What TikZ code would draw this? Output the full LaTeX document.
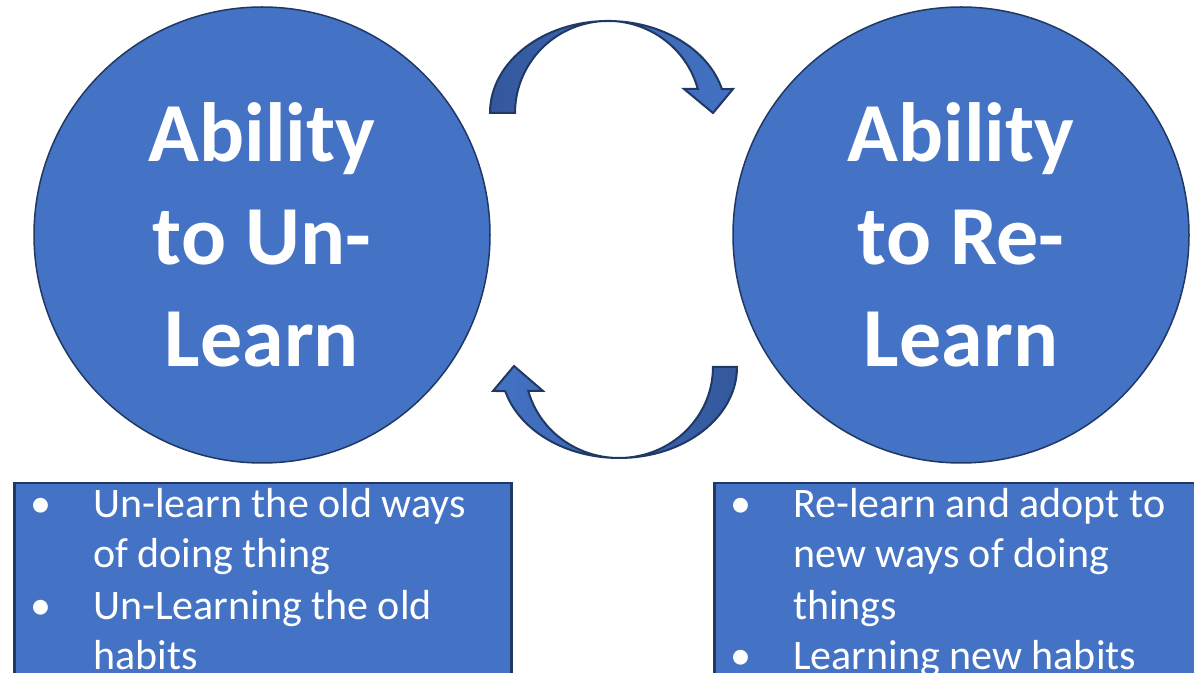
\documentclass[tikz,border=0pt]{standalone}
\usepackage{fontspec}
\setmainfont{Carlito}
\usepackage{tikz}
\definecolor{mainblue}{RGB}{68,114,196}
\definecolor{footblue}{RGB}{52,88,156}
\definecolor{edgeblue}{RGB}{32,56,100}
\tikzset{
  bigcircle/.style={circle,draw=edgeblue,line width=1.5pt,fill=mainblue,minimum size=456pt,inner sep=0pt},
  bigtext/.style={text=white,font=\fontsize{84}{102.5}\selectfont\bfseries,align=center,inner sep=0pt},
  listbox/.style={draw=edgeblue,line width=2.5pt,fill=mainblue,minimum width=497pt,minimum height=300pt,anchor=north west,inner sep=0pt},
  listtext/.style={text=white,font=\fontsize{42}{51}\selectfont,align=left,anchor=base west,inner sep=0pt},
  turnarrow/.style={draw=edgeblue,line width=2pt}
}
\begin{document}
\begin{tikzpicture}[x=1pt,y=1pt]
\def\xL {262}   % x-center of left circle
\def\xR {961}   % x-center of right circle
\def\yC {437}   % y-center of circles
\def\bul {63pt} % indent from bullet to text
 \clip (0,0) rectangle (1194,672);
 \fill[white] (0,0) rectangle (1194,672);
% circles:
 \node[bigcircle] (unlearn) at (\xL,\yC) {};
 \node[bigcircle] (relearn) at (\xR,\yC) {};
 \node[bigtext] (unlearntxt) at (unlearn) {Ability\\to Un-\\Learn};
 \node[bigtext] (relearntxt) at (relearn) {Ability\\to Re-\\Learn};
% turning arrows:
 \draw[turnarrow,left color=footblue,right color=mainblue] (490,559)
   arc[start angle=180,end angle=15.1,x radius=118,y radius=92]
   -- (733,583) -- (713,559) -- (684,583) -- (697.8,583)
   arc[start angle=15.1,end angle=180,x radius=93,y radius=92] -- cycle;
 \draw[turnarrow,left color=mainblue,right color=footblue] (737,305)
   arc[start angle=0,end angle=-164.7,x radius=118,y radius=91]
   -- (493,281) -- (514,306) -- (543,281) -- (528.3,281)
   arc[start angle=-164.7,end angle=0,x radius=94,y radius=91] -- cycle;
% lists (base = last line):
 \node[listbox] (unlist) at (13,190) {};
 \node[listbox] (relist) at (713,190) {};
 \node[listtext] (untxt) at (30,2) {\makebox[\bul][l]{•}Un-learn the old ways\\\hspace*{\bul}of doing thing\\\makebox[\bul][l]{•}Un-Learning the old\\\hspace*{\bul}habits};
 \node[listtext] (retxt) at (730,2) {\makebox[\bul][l]{•}Re-learn and adopt to\\\hspace*{\bul}new ways of doing\\\hspace*{\bul}things\\\makebox[\bul][l]{•}Learning new habits};
\end{tikzpicture}
\end{document}
